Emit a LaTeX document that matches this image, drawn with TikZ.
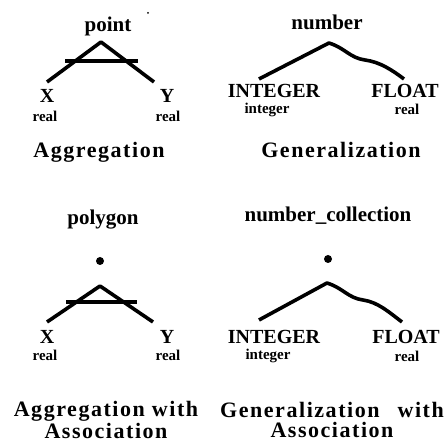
\documentclass[tikz,border=0pt]{standalone}
\usepackage{fontspec}
\setmainfont{Liberation Serif}
\begin{document}
\begin{tikzpicture}[x=1pt,y=-1pt,
  head/.style={font=\fontsize{21}{24}\selectfont\bfseries,anchor=base,inner sep=0pt},
  attr/.style={font=\fontsize{20}{24}\selectfont\bfseries,anchor=base,inner sep=0pt},
  kind/.style={font=\fontsize{15}{18}\selectfont\bfseries,anchor=base,inner sep=0pt},
  caption/.style={font=\fontsize{22}{20}\selectfont\bfseries\addfontfeature{LetterSpace=7},
    align=center,inner sep=0pt},
  joint/.style={circle,fill=black,inner sep=0pt,minimum size=8pt},
  link/.style={line width=3.6pt,line join=round},
  bar/.style={line width=4.2pt}]
  \useasboundingbox (0,0) rectangle (448,446);

  % aggregation
  \node[head] (point) at (108,32) {point};
  \fill (148,13) circle (1pt);
  \coordinate (pointtop) at (101,42);
  \coordinate (pointl) at (47,82);
  \coordinate (pointr) at (154,82);
  \coordinate (pointbl) at (65,61);
  \coordinate (pointbr) at (138,61);
  \draw[link] (pointl) -- (pointtop) -- (pointr);
  \draw[bar] (pointbl) -- (pointbr);
  \node[attr] (px) at (47,103) {X};
  \node[attr] (py) at (167,103) {Y};
  \node[kind] (pxt) at (45,122) {real};
  \node[kind] (pyt) at (168,122) {real};
  \node[caption] (aggcap) at (99,152) {Aggregation};

  % generalization
  \node[head] (number) at (327,30) {number};
  \coordinate (numtop) at (329,43);
  \coordinate (numl) at (259,79);
  \coordinate (numr) at (404,79);
  \draw[link] (numl) -- (numtop)
    .. controls (345,48) and (350,58) .. (365,60)
    .. controls (380,62) and (392,70) .. (numr);
  \node[attr] (nint) at (274,98) {INTEGER};
  \node[attr] (nflt) at (405,98) {FLOAT};
  \node[kind] (nintt) at (267,114) {integer};
  \node[kind] (nfltt) at (407,115) {real};
  \node[caption] (gencap) at (341,150) {Generalization};

  % aggregation with association
  \node[head] (polygon) at (103,225) {polygon};
  \node[joint] (polydot) at (100,261) {};
  \coordinate (polytop) at (100,286);
  \coordinate (polyl) at (47,322);
  \coordinate (polyr) at (153,322);
  \coordinate (polybl) at (66,302);
  \coordinate (polybr) at (137,302);
  \draw[link] (polyl) -- (polytop) -- (polyr);
  \draw[bar] (polybl) -- (polybr);
  \node[attr] (gx) at (47,344) {X};
  \node[attr] (gy) at (167,344) {Y};
  \node[kind] (gxt) at (45,361) {real};
  \node[kind] (gyt) at (168,361) {real};
  \node[caption] (aggacap) at (106,420) {Aggregation with\\Association};

  % generalization with association
  \node[head] (numcoll) at (328,222) {number\_collection};
  \node[joint] (colldot) at (328,259) {};
  \coordinate (colltop) at (327,283);
  \coordinate (colll) at (259,320);
  \coordinate (collr) at (402,322);
  \draw[link] (colll) -- (colltop)
    .. controls (343,288) and (348,298) .. (363,300)
    .. controls (378,302) and (390,313) .. (collr);
  \node[attr] (cint) at (274,344) {INTEGER};
  \node[attr] (cflt) at (406,344) {FLOAT};
  \node[kind] (cintt) at (268,360) {integer};
  \node[kind] (cfltt) at (407,362) {real};
  \node[caption] (genacap) at (332,420) {Generalization\hspace{0.5em} with\\Association};
\end{tikzpicture}
\end{document}
